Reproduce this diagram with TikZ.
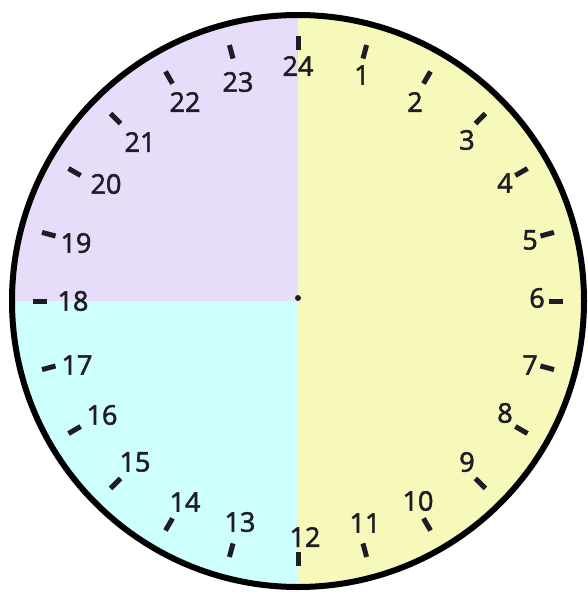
\documentclass[tikz,border=0pt]{standalone}
\usepackage{fontspec}
\setmainfont{Open Sans}
\newfontfamily\hourfont{Open Sans}[FakeBold=2]
\usetikzlibrary{calc}
\definecolor{lav}{RGB}{231,221,250}
\definecolor{cyn}{RGB}{206,255,255}
\definecolor{yel}{RGB}{246,249,186}
\definecolor{ink}{RGB}{30,28,36}
\begin{document}
\begin{tikzpicture}[x=1pt,y=-1pt,
  tickmark/.style={line width=5pt, draw=ink},
  hour/.style={font=\hourfont\fontsize{27}{27}\selectfont, text=ink, inner sep=0pt}]
\useasboundingbox (0,0) rectangle (587,597);
\coordinate (c) at (298,301);
\begin{scope}
  \clip (c) circle (286pt);
  \fill[yel] (298,0) rectangle (600,600);
  \fill[lav] (0,0) rectangle (298,301);
  \fill[cyn] (0,301) rectangle (298,600);
\end{scope}
\draw[line width=6pt, draw=black] (c) circle (286pt);
\foreach \h in {1,...,24}{
  \draw[tickmark] ($(c)+({90-15*\h}:251pt)$) -- ($(c)+({90-15*\h}:265pt)$);
}
\node[circle, fill=ink, inner sep=0pt, minimum size=6pt] (dot) at (298,298) {};
\foreach \h/\x/\y in {1/362/75, 2/415/102, 3/467/140, 4/505/183, 5/530/240, 6/537/298,
  7/530/365, 8/505/413, 9/467/462, 10/418/501, 11/365/523, 12/305/537,
  13/240/522, 14/185/502, 15/135/462, 16/102/415, 17/77/365, 18/73/301,
  19/76/243, 20/106/184, 21/140/142, 22/185/102, 23/238/82, 24/298/66}{
  \node[hour] (l\h) at (\x,\y) {\h};
}
\end{tikzpicture}
\end{document}
